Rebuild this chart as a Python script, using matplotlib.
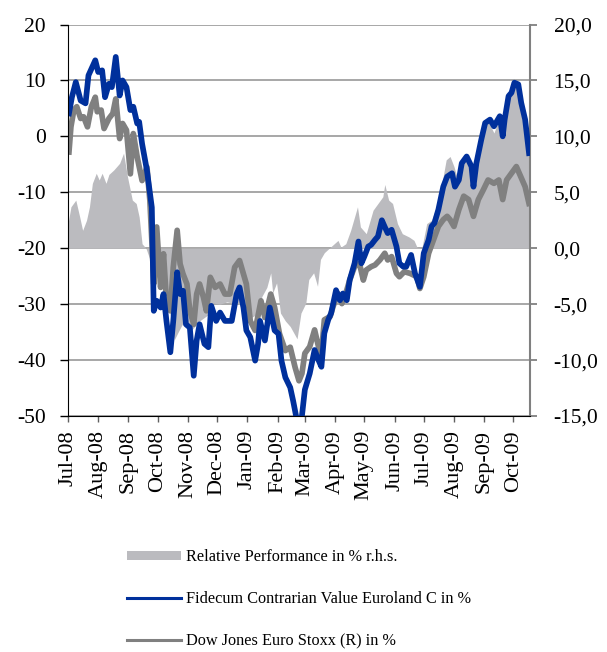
import numpy as np
import matplotlib
matplotlib.use("Agg")
import matplotlib.pyplot as plt
import matplotlib.dates as mdates
from matplotlib.lines import Line2D
from matplotlib.patches import Patch
from matplotlib.ticker import FixedLocator, FuncFormatter

plt.rcParams['font.family'] = ['Liberation Serif', 'DejaVu Serif']
plt.rcParams['axes.unicode_minus'] = False

# days since 2008-07-01
fund_days = [1, 4, 8, 13, 18, 21, 28, 31, 35, 38, 42, 45, 49, 53, 56, 60, 64, 67, 71, 73,
             76, 81, 86, 88, 91, 95, 98, 101, 105, 108, 112, 115, 118, 121, 125, 129, 132,
             135, 140, 144, 147, 152, 156, 161, 168, 173, 176, 180, 183, 187, 192, 195, 197,
             202, 207, 212, 216, 219, 223, 228, 231, 234, 237, 240, 243, 248, 253, 257, 260,
             263, 267, 270, 275, 279, 282, 286, 289, 294, 298, 301, 304, 308, 311, 315, 318,
             322, 325, 328, 332, 337, 340, 344, 347, 352, 356, 361, 365, 370, 373, 376, 380,
             385, 389, 394, 397, 401, 404, 409, 414, 416, 419, 424, 428, 433, 437, 440, 443,
             446, 448, 452, 455, 458, 462, 465, 469, 473]
fund = [4.1, 7.0, 9.7, 6.4, 5.9, 10.9, 13.6, 11.5, 11.8, 7.0, 9.4, 8.8, 14.2, 7.3, 10.0, 8.8,
        4.7, 5.3, 2.3, 2.6, -1.3, -6.1, -12.7, -31.2, -29.4, -30.6, -28.2, -33.0, -38.6,
        -33.0, -24.3, -28.2, -27.6, -33.6, -34.2, -42.8, -36.5, -33.6, -37.1, -37.7, -30.3,
        -33.0, -31.5, -33.0, -33.0, -28.2, -27.0, -30.6, -34.7, -35.9, -40.1, -37.1, -33.0,
        -36.5, -30.6, -34.7, -35.3, -40.1, -43.1, -44.9, -47.3, -50.0, -51.5, -50.0, -45.3,
        -42.4, -38.2, -40.0, -41.2, -35.2, -32.8, -31.6, -27.5, -29.3, -28.1, -29.3, -25.7,
        -22.7, -18.8, -22.7, -21.5, -19.7, -19.4, -18.5, -17.9, -15.0, -16.2, -17.3, -16.7,
        -19.7, -22.7, -23.3, -23.3, -21.2, -24.5, -26.9, -20.9, -18.5, -16.1, -15.5, -13.1,
        -9.0, -7.2, -6.6, -9.0, -7.8, -4.8, -3.6, -5.4, -9.0, -4.8, -0.6, 2.4, 3.0, 1.8, 2.7,
        3.6, 0.0, 3.0, 7.2, 7.8, 9.6, 9.3, 6.0, 3.0, -3.0]

index_days = [1, 3, 6, 9, 13, 16, 20, 24, 28, 30, 34, 37, 42, 46, 49, 53, 56, 60, 64, 67, 71,
              76, 81, 84, 87, 88, 91, 95, 98, 101, 105, 108, 112, 115, 118, 122, 125, 129,
              132, 135, 139, 142, 146, 151, 156, 161, 166, 171, 176, 180, 183, 187, 192, 198,
              202, 208, 212, 217, 223, 228, 233, 237, 240, 243, 248, 253, 257, 260, 263, 269,
              272, 277, 281, 286, 289, 294, 299, 303, 306, 311, 315, 320, 325, 328, 332, 337,
              340, 345, 351, 358, 361, 365, 370, 375, 380, 385, 389, 392, 396, 401, 406, 411,
              416, 421, 426, 431, 437, 442, 446, 450, 455, 460, 463, 469, 473]
index = [-2.8, 1.7, 4.7, 5.3, 3.2, 3.5, 1.7, 5.3, 7.0, 4.4, 4.7, 1.4, 3.2, 4.1, 6.7, -0.4,
         2.3, 1.1, -6.7, 0.5, -3.7, -7.9, -5.5, -11.5, -22.2, -26.4, -16.2, -27.0, -21.0,
         -29.4, -31.2, -23.4, -16.8, -22.8, -24.6, -26.4, -31.2, -33.6, -28.2, -26.4, -28.8,
         -31.2, -25.2, -27.0, -26.4, -28.2, -28.2, -23.4, -22.2, -24.6, -26.4, -33.0, -34.7,
         -29.4, -32.4, -28.2, -30.6, -35.3, -38.3, -37.7, -41.3, -43.7, -42.4, -38.8, -37.6,
         -34.6, -37.6, -38.8, -32.8, -32.2, -30.4, -28.1, -29.9, -27.5, -25.7, -23.3, -22.7,
         -25.7, -23.9, -23.3, -23.0, -22.1, -20.9, -22.1, -21.5, -24.5, -25.1, -24.2, -24.5,
         -25.1, -27.2, -25.1, -20.9, -18.5, -16.1, -14.9, -14.3, -14.9, -16.1, -13.1, -10.7,
         -11.3, -14.3, -11.3, -9.6, -7.8, -8.4, -7.8, -11.3, -7.8, -6.6, -5.4, -6.6, -9.0,
         -12.0]

rel_days = [0, 3, 8, 12, 15, 19, 22, 25, 29, 32, 35, 39, 42, 47, 53, 57, 61, 66, 70, 73, 76,
            80, 84, 88, 92, 100, 105, 109, 113, 119, 127, 135, 143, 149, 156, 163, 169, 176,
            184, 192, 199, 204, 208, 210, 214, 218, 223, 228, 235, 239, 244, 247, 252, 256,
            259, 263, 268, 277, 280, 285, 290, 297, 300, 306, 313, 318, 323, 325, 329, 333,
            338, 343, 350, 355, 358, 363, 368, 373, 378, 383, 388, 392, 396, 399, 404, 409,
            414, 417, 422, 427, 432, 437, 442, 445, 450, 455, 460, 463, 469, 473]
rel = [2.2, 3.7, 4.3, 2.8, 1.6, 2.5, 3.7, 5.8, 6.7, 6.1, 6.7, 5.8, 6.6, 7.0, 7.6, 8.5, 6.4,
       4.3, 4.0, 2.8, 0.4, 0.0, -1.0, -3.0, -2.5, -4.0, -6.0, -8.2, -7.5, -6.5, -7.3, -6.5,
       -6.0, -4.9, -5.0, -4.8, -4.9, -5.0, -6.4, -6.0, -4.3, -3.5, -2.2, -4.0, -3.1, -5.8,
       -6.5, -7.0, -8.1, -5.8, -4.9, -2.8, -2.2, -3.4, -1.0, -0.4, 0.0, 0.7, 0.1, 0.4, 1.6,
       3.7, 1.9, 1.3, 3.4, 4.0, 4.6, 5.7, 4.3, 4.0, 2.2, 1.3, 1.0, 0.7, 0.1, 0.0, 2.2, 2.5,
       3.7, 5.5, 7.9, 8.2, 7.3, 6.4, 7.9, 8.2, 6.4, 7.6, 9.7, 11.5, 11.2, 10.3, 11.5, 10.3,
       13.0, 14.5, 14.8, 13.6, 11.5, 8.8]

left_ticks = [-50, -40, -30, -20, -10, 0, 10, 20]
right_ticks = [-15, -10, -5, 0, 5, 10, 15, 20]
labels = ['Relative Performance in % r.h.s.',
          'Fidecum Contrarian Value Euroland C in %',
          'Dow Jones Euro Stoxx (R) in %']

start = np.datetime64('2008-07-01')
end = start + np.timedelta64(474, 'D')
to_dates = lambda d: start + np.array(d).astype('timedelta64[D]')

blue = '#00309C'
grey = '#808080'
fillc = '#BBBBBF'

fig = plt.figure(figsize=(6.07, 6.52), dpi=100)
ax = fig.add_axes([68 / 607, 1 - 416 / 652, (530 - 68) / 607, (416 - 24.5) / 652])
ax2 = ax.twinx()

# relative performance area on right axis, behind lines
ax2.fill_between(to_dates(rel_days), 0, rel, color=fillc, lw=0, zorder=2)
ax2.set_ylim(-15, 20)
ax2.yaxis.set_major_locator(FixedLocator(right_ticks))
ax2.yaxis.set_major_formatter(FuncFormatter(lambda v, p: f'{v:.1f}'.replace('.', ',')))
ax2.grid(axis='y', color='#A0A0A0', lw=1.3, zorder=1)
ax2.set_axisbelow(True)

ax.set_zorder(ax2.get_zorder() + 1)
ax.patch.set_visible(False)
ax.plot(to_dates(index_days), index, color=grey, lw=4.1, solid_joinstyle='round')
ax.plot(to_dates(fund_days), fund, color=blue, lw=4.1, solid_joinstyle='round')
ax.set_ylim(-50, 20)
ax.yaxis.set_major_locator(FixedLocator(left_ticks))
ax.set_xlim(start, end)
ax.xaxis.set_major_locator(mdates.MonthLocator())
ax.xaxis.set_major_formatter(mdates.DateFormatter('%b-%y'))

ax.spines['top'].set_visible(False)
ax2.spines['top'].set_visible(False)
ax.spines['right'].set_visible(False)
ax2.spines['left'].set_visible(False)
ax2.spines['bottom'].set_visible(False)
ax.spines['left'].set_color('black')
ax.spines['bottom'].set_color('black')
ax2.spines['right'].set_color(grey)
ax2.spines['right'].set_linewidth(1.5)

ax.tick_params(axis='y', direction='out', length=6, width=1, pad=10, labelsize=15.5)
ax.tick_params(axis='x', direction='out', length=4, width=1, color='#606060',
               pad=6, labelsize=16, labelrotation=90)
ax2.tick_params(axis='y', direction='out', length=5, width=1.3, color=grey, pad=12,
                labelsize=15.5)

handles = [Patch(facecolor=fillc, edgecolor='none'),
           Line2D([], [], color=blue, lw=2.2),
           Line2D([], [], color=grey, lw=2.2)]
fig.legend(handles, labels, loc='upper left', bbox_to_anchor=(127 / 607, 1 - 549 / 652),
           frameon=False, fontsize=11.7, handlelength=3.3, handleheight=0.5,
           handletextpad=0.3, labelspacing=1.6, borderpad=0, borderaxespad=0)

fig.savefig('out.png', dpi=100)
